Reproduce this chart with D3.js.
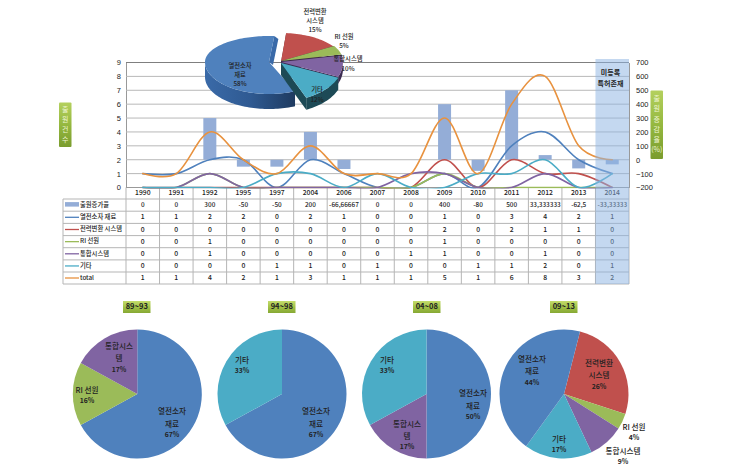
<!DOCTYPE html>
<html><head><meta charset="utf-8">
<script src="https://cdn.jsdelivr.net/npm/d3@7/dist/d3.min.js"></script>
<style>
html,body{margin:0;padding:0;background:#fff}
svg{display:block}
text{font-family:"Noto Sans CJK KR","Noto Sans",sans-serif;fill:#222}
</style></head><body><svg id="c" width="739" height="476"></svg>
<script>
// ---------- data ----------
const years = ["1990","1991","1992","1995","1997","2004","2006","2007","2008","2009","2010","2011","2012","2013","2014"];
const growth = [0,0,300,-50,-50,200,-66.66667,0,0,400,-80,500,33.333333,-62.5,-33.33333];
const growthLabels = ["0","0","300","-50","-50","200","-66,66667","0","0","400","-80","500","33,333333","-62,5","-33,33333"];
const material = [1,1,2,2,0,2,1,0,0,1,0,3,4,2,1];
const power    = [0,0,0,0,0,0,0,0,0,2,0,2,1,1,0];
const ri       = [0,0,1,0,0,0,0,0,0,1,0,0,0,0,0];
const system   = [0,0,1,0,0,0,0,0,1,1,0,0,1,0,0];
const other    = [0,0,0,0,1,1,0,1,0,0,1,1,2,0,1];
const total    = [1,1,4,2,1,3,1,1,1,5,1,6,8,3,2];
const seriesNames = ["열전소자 재료","전력변환 시스템","RI 선원","통합시스템","기타","total"];
const leftTicks = [0,1,2,3,4,5,6,7,8,9];
const rightTicks = [-200,-100,0,100,200,300,400,500,600,700];
const pieAll = [58,15,5,10,12];
const pie89 = [67,16,17];
const pie94 = [67,33];
const pie04 = [50,17,33];
const pie09 = [26,4,9,17,44];
const periods = ["89~93","94~98","04~08","09~13"];

// ---------- styles / layout ----------
const C = {blue:"#4F81BD",red:"#C0504D",green:"#9BBB59",purple:"#8064A2",teal:"#4BACC6",orange:"#E8923F"};
const seriesColors = [C.blue,C.red,C.green,C.purple,C.teal,C.orange];
const svg = d3.select("#c");
const plot = {l:126,r:629,t:62.5,b:187.5};
const x = d3.scaleBand().domain(years).range([plot.l,plot.r]);
const yL = d3.scaleLinear().domain([0,9]).range([plot.b,plot.t]);
const yR = d3.scaleLinear().domain([-200,700]).range([plot.b,plot.t]);

const defs = svg.append("defs");
function grad(id,stops,horizontal){
  const g = defs.append("linearGradient").attr("id",id).attr("x1",0).attr("y1",0)
    .attr("x2",horizontal?1:0).attr("y2",horizontal?0:1);
  stops.forEach((s,i)=>g.append("stop").attr("offset",i/(stops.length-1)).attr("stop-color",s));
}
grad("badge",["#C4DC6C","#A2C247","#86A834"],false);
grad("badgeV",["#B4D05E","#95B83F","#7A9C2E"],false);
grad("wallBlue",["#3A6AA8","#2F5A92","#1E3A60"],true);
defs.append("clipPath").attr("id","plotClip").append("rect")
  .attr("x",plot.l).attr("y",plot.t-1).attr("width",plot.r-plot.l).attr("height",plot.b-plot.t+2);

// ---------- axes + grid ----------
const gl = svg.append("g").attr("transform",`translate(${plot.l},0)`)
  .call(d3.axisLeft(yL).tickValues(leftTicks).tickSize(0).tickPadding(5));
gl.select(".domain").attr("stroke","#999");
gl.selectAll("text").attr("font-size",7.5).attr("fill","#222").style("font-family","Liberation Sans");
const gr = svg.append("g").attr("transform",`translate(${plot.r},0)`)
  .call(d3.axisRight(yR).tickValues(rightTicks).tickSize(0).tickPadding(7));
gr.select(".domain").attr("stroke","#999");
gr.selectAll("text").attr("font-size",7.5).attr("fill","#222").style("font-family","Liberation Sans");
svg.append("g").selectAll("line").data(leftTicks.slice(1)).join("line")
  .attr("x1",plot.l).attr("x2",plot.r).attr("y1",d=>yL(d)).attr("y2",d=>yL(d))
  .attr("stroke",d=>d===9?"#7f7f7f":"#b8b8b8").attr("stroke-width",1);

// ---------- bars ----------
svg.append("g").selectAll("rect").data(growth.map((v,i)=>({v,y:years[i]}))).join("rect")
  .attr("x",d=>x(d.y)+x.bandwidth()/2-6.5).attr("width",13)
  .attr("y",d=>Math.min(yR(d.v),yR(0))).attr("height",d=>Math.abs(yR(d.v)-yR(0)))
  .attr("fill","#94ADD7");

// ---------- table ----------
const rowY = [199,211.2,223.4,235.6,247.7,259.9,272,284];
const tbl = svg.append("g");
const tableLabels = ["출원증가율"].concat(seriesNames);
const rows = [growthLabels,material,power,ri,system,other,total];
tbl.selectAll("line.h").data(rowY).join("line").attr("class","h")
  .attr("x1",63).attr("x2",plot.r).attr("y1",d=>d).attr("y2",d=>d).attr("stroke","#b5b5b5");
const edges = years.map(y=>x(y)).concat([plot.r]);
tbl.selectAll("line.v").data(edges).join("line").attr("class","v")
  .attr("x1",d=>d).attr("x2",d=>d).attr("y1",plot.b).attr("y2",rowY[7]).attr("stroke","#b5b5b5");
tbl.append("line").attr("x1",63).attr("x2",63).attr("y1",rowY[0]).attr("y2",rowY[7]).attr("stroke","#b5b5b5");
tbl.append("line").attr("x1",plot.l).attr("x2",plot.r).attr("y1",plot.b).attr("y2",plot.b).attr("stroke","#999");
tbl.selectAll("text.yr").data(years).join("text").attr("class","yr")
  .attr("x",d=>x(d)+x.bandwidth()/2).attr("y",193.5).attr("text-anchor","middle")
  .attr("dominant-baseline","middle").attr("font-size",6.8).attr("font-weight",500).text(d=>d);
rows.forEach((row,r)=>{
  const cy=(rowY[r]+rowY[r+1])/2;
  tbl.append("g").selectAll("text").data(row).join("text")
    .attr("x",(d,i)=>x(years[i])+x.bandwidth()/2).attr("y",cy+.3)
    .attr("text-anchor","middle").attr("dominant-baseline","middle")
    .attr("font-size",r===0?6.4:6.8).attr("font-weight",500).text(d=>d);
  tbl.append("text").attr("x",80).attr("y",cy).attr("dominant-baseline","middle")
    .attr("font-size",6.3).attr("font-weight",500).text(tableLabels[r]);
  if(r===0) tbl.append("rect").attr("x",65).attr("width",14).attr("y",cy-3).attr("height",4.5).attr("fill","#94ADD7");
  else tbl.append("line").attr("x1",65).attr("x2",79).attr("y1",cy).attr("y2",cy)
        .attr("stroke",seriesColors[r-1]).attr("stroke-width",1.3);
});

// ---------- lines ----------
const line = d3.line().x((d,i)=>x(years[i])+x.bandwidth()/2).y(d=>yL(d)).curve(d3.curveCatmullRom.alpha(0));
svg.append("g").attr("clip-path","url(#plotClip)").selectAll("path")
  .data([material,power,ri,system,other,total]).join("path")
  .attr("d",line).attr("fill","none").attr("stroke-linecap","round")
  .attr("stroke",(d,i)=>seriesColors[i]).attr("stroke-width",1.6);

// 2014 highlight
svg.append("rect").attr("x",x("2014")).attr("y",59).attr("width",x.bandwidth()).attr("height",225)
  .attr("fill","#8DB4E2").attr("fill-opacity",.52);

function stacked(cx,lines,ys,size,weights){
  lines.forEach((t,i)=>svg.append("text").attr("x",cx).attr("y",ys[i])
    .attr("text-anchor","middle").attr("dominant-baseline","middle")
    .attr("font-size",Array.isArray(size)?size[i]:size)
    .attr("font-weight",weights?weights[i]:500).text(t));
}
stacked(610.5,["미등록","특허존재"],[73,84],7,[700,700]);

// badges
function vbadge(xp,yt,w,h,chars,step){
  svg.append("rect").attr("x",xp).attr("y",yt).attr("width",w).attr("height",h).attr("rx",1).attr("fill","url(#badgeV)");
  chars.forEach((c,i)=>svg.append("text").attr("x",xp+w/2).attr("y",yt+h/2+(i-(chars.length-1)/2)*step)
    .attr("text-anchor","middle").attr("dominant-baseline","middle").attr("font-size",7).style("fill","#EEF5D2").text(c));
}
vbadge(59,102.5,12.5,44.5,["출","원","건","수"],10);
vbadge(650.5,90.5,12.5,68.5,["출","원","증","감","율","(%)"],10.3);

// ---------- exploded 3D pie ----------
const deg = Math.PI/180;
const pie3 = d3.pie().sort(null).startAngle(156*deg).endAngle((156+360)*deg)(pieAll);
const geo = [
  {cx:269,cy:62,rx:64,top:26,bot:32,depth:15,topC:C.blue,wall:"url(#wallBlue)",cut:"#3A6AA8"},
  {cx:281,cy:62,rx:62,top:29,bot:38,depth:6,topC:C.red,wall:"#5E2A2A",cut:"#5E2A2A"},
  {cx:281,cy:61,rx:62,top:29,bot:38,depth:6,topC:C.green,wall:"#4D5C2C",cut:"#3E2C46"},
  {cx:281,cy:62,rx:62,top:29,bot:38,depth:7,topC:C.purple,wall:"#3C2C52",cut:"#3C2C52"},
  {cx:281,cy:63,rx:62,top:29,bot:38,depth:12,topC:C.teal,wall:"#1D4A56",cut:"#1D4A56"}
];
const poly = d3.line().x(d=>d[0]).y(d=>d[1]);
function pt(g,a,dy){
  const c=Math.cos(a);
  return [g.cx+g.rx*Math.sin(a), g.cy-(c>0?g.top:g.bot)*c+(dy||0)];
}
function samples(a0,a1){
  const n=Math.max(2,Math.ceil((a1-a0)/(2*deg))),out=[];
  for(let i=0;i<=n;i++)out.push(a0+(a1-a0)*i/n);
  return out;
}
const p3 = svg.append("g");
pie3.forEach((s,i)=>{
  const g=geo[i];
  const c=[g.cx,g.cy];
  if(i>0){
    [s.startAngle,s.endAngle].forEach(a=>{
      const e=pt(g,a);
      p3.append("path").attr("fill",g.cut)
        .attr("d",poly([c,e,[e[0],e[1]+g.depth],[c[0],c[1]+g.depth]])+"Z");
    });
  } else {
    const e=pt(g,s.endAngle);
    p3.append("path").attr("fill",g.cut)
      .attr("d",poly([[c[0],c[1]],e,[e[0]+4,e[1]+3],[c[0]+4,c[1]+3]])+"Z");
  }
  [[90,270],[450,630]].forEach(([lo,hi])=>{
    const a0=Math.max(s.startAngle,lo*deg),a1=Math.min(s.endAngle,hi*deg);
    if(a1>a0){
      const arc=samples(a0,a1);
      const pts=arc.map(a=>pt(g,a)).concat(arc.slice().reverse().map(a=>pt(g,a,g.depth)));
      p3.append("path").attr("fill",g.wall).attr("d",poly(pts)+"Z");
    }
  });
  const top=[c].concat(samples(s.startAngle,s.endAngle).map(a=>pt(g,a)));
  p3.append("path").attr("fill",g.topC).attr("d",poly(top)+"Z");
});
stacked(240,["열전소자","재료",pieAll[0]+"%"],[66,75,84],6.3);
stacked(315,["전력변환","시스템",pieAll[1]+"%"],[12,21,30],6.3);
stacked(344,["RI 선원",pieAll[2]+"%"],[37,46],6.3);
stacked(348,["통합시스템",pieAll[3]+"%"],[59.5,69],6.3);
stacked(317,["기타",pieAll[4]+"%"],[90,100],6.3);

// ---------- four period pies ----------
function flatPie(cx,cy,r,vals,cols,startDeg){
  const arcs=d3.pie().sort(null).startAngle(startDeg*deg).endAngle((startDeg+360)*deg)(vals);
  const a=d3.arc().innerRadius(0).outerRadius(r);
  svg.append("g").attr("transform",`translate(${cx},${cy})`).selectAll("path").data(arcs).join("path")
    .attr("d",a).attr("fill",(d,i)=>cols[i]);
}
flatPie(137.3,394,64.5,pie89,[C.blue,C.green,C.purple],0);
flatPie(282,394,64.5,pie94,[C.blue,C.teal],0);
flatPie(426.5,394,64.5,pie04,[C.blue,C.purple,C.teal],0);
flatPie(564,394,64.5,pie09,[C.red,C.green,C.purple,C.teal,C.blue],14.4);

const W3=[500,500,700], W2=[500,700];
const S3=[7.6,7.6,6.8], S2=[7.6,6.8];
stacked(172,["열전소자","재료",pie89[0]+"%"],[412,425,435],S3,W3);
stacked(87,["RI 선원",pie89[1]+"%"],[391,401],S2,W2);
stacked(119,["통합시스","템",pie89[2]+"%"],[347,359,370],S3,W3);
stacked(316,["열전소자","재료",pie94[0]+"%"],[412,425,435],S3,W3);
stacked(242,["기타",pie94[1]+"%"],[361,371],S2,W2);
stacked(473,["열전소자","재료",pie04[0]+"%"],[394,407,417],S3,W3);
stacked(407,["통합시스","템",pie04[1]+"%"],[425,437,447],S3,W3);
stacked(387,["기타",pie04[2]+"%"],[361,371],S2,W2);
stacked(532,["열전소자","재료",pie09[4]+"%"],[360,372,383],S3,W3);
stacked(599,["전력변환","시스템",pie09[0]+"%"],[364,376,387],S3,W3);
stacked(634,["RI 선원",pie09[1]+"%"],[428,438],S2,W2);
stacked(559,["기타",pie09[3]+"%"],[440,450],S2,W2);
stacked(623,["통합시스템",pie09[2]+"%"],[452,462],S2,W2);

// period badges
const badgeX=[123,268,413,550];
periods.forEach((p,i)=>{
  svg.append("rect").attr("x",badgeX[i]).attr("y",301).attr("width",27.5).attr("height",12).attr("fill","url(#badge)");
  svg.append("text").attr("x",badgeX[i]+13.75).attr("y",307.2).attr("text-anchor","middle")
    .attr("dominant-baseline","middle").attr("font-size",7.5).attr("font-weight",600).text(p);
});
</script></body></html>
